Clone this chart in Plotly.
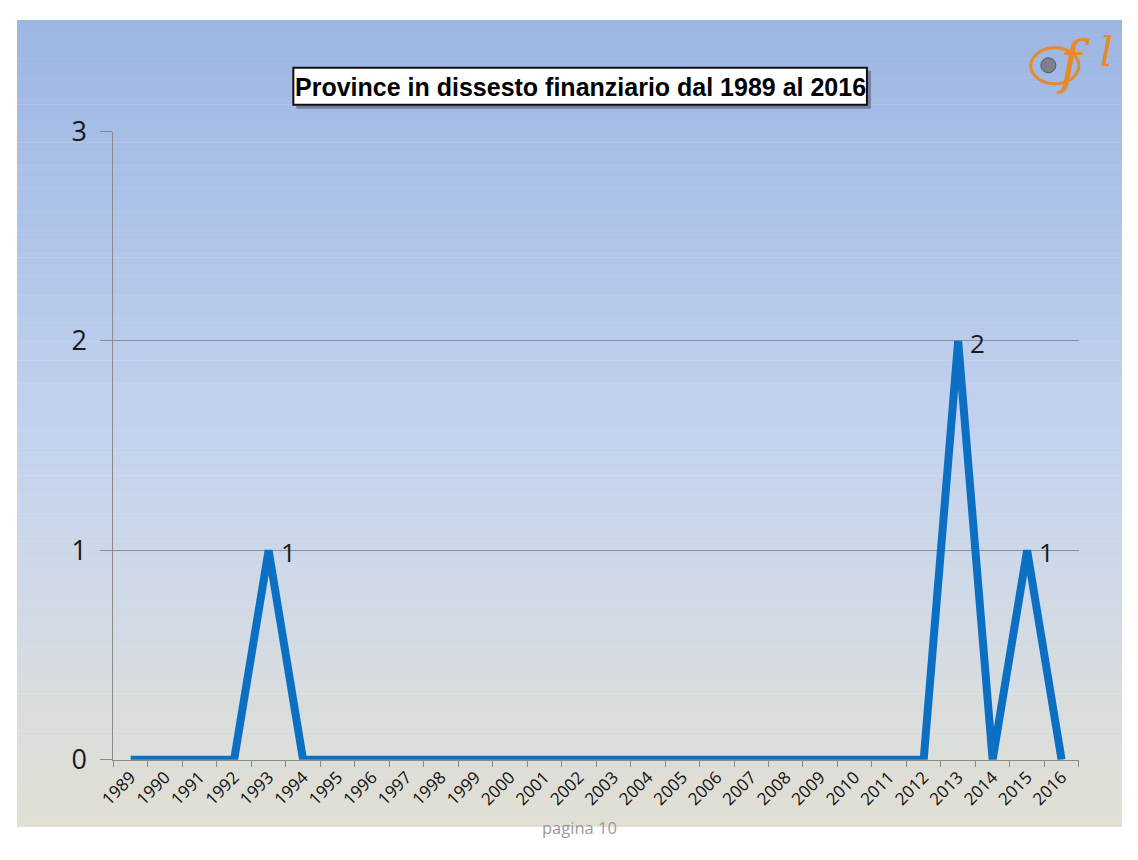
import plotly.graph_objects as go

# Data: provinces declared in financial distress per year
years = [str(y) for y in range(1989, 2017)]
counts = [0, 0, 0, 0, 1, 0, 0, 0, 0, 0, 0, 0, 0, 0, 0, 0, 0, 0, 0, 0, 0, 0, 0, 0, 2, 0, 1, 0]
y_ticks = [0, 1, 2, 3]

# Figure size leaves room for the page's default 8px body margin
W, H = 1122, 844
OFF = 8
LINE_BLUE = "#0B70C4"

# Slide layout coordinates -> page pixels
SX, BX = 0.9855, 7.6
SY, BY = 0.959, 10.4


def px(x):
    """Slide x -> paper fraction."""
    return ((x - BX) / SX - OFF) / W


def py(y):
    """Slide y -> paper fraction."""
    return 1 - ((y - BY) / SY - OFF) / H


fig = go.Figure()

fig.add_trace(go.Scatter(
    x=years, y=counts,
    mode="lines",
    line=dict(color=LINE_BLUE, width=8),
    hoverinfo="x+y",
))

# Slide background: vertical gradient from blue (top) to beige (bottom)
stops = [
    (10, (155, 181, 226)),
    (130, (166, 189, 230)),
    (430, (195, 210, 238)),
    (600, (208, 217, 230)),
    (760, (220, 222, 216)),
    (900, (231, 224, 205)),
]


def color_at(yy):
    yy = max(stops[0][0], min(stops[-1][0], yy))
    for (y0, c0), (y1, c1) in zip(stops[:-1], stops[1:]):
        if y0 <= yy <= y1:
            t = (yy - y0) / (y1 - y0)
            return "rgb(%d,%d,%d)" % tuple(round(a + (b - a) * t) for a, b in zip(c0, c1))
    return "rgb(%d,%d,%d)" % stops[-1][1]


shapes = []
step = 4
for d in range(0, H, step):
    slide_y = SY * (d + OFF + step / 2) + BY
    shapes.append(dict(
        type="rect", xref="paper", yref="paper", layer="below",
        x0=0, x1=1,
        y0=max(0, 1 - (d + step + 0.5) / H), y1=1 - d / H,
        fillcolor=color_at(slide_y), line=dict(width=0),
    ))

# Title box with shadow
shapes.append(dict(type="rect", xref="paper", yref="paper", layer="below",
                   x0=px(295), x1=px(870), y0=py(107), y1=py(69),
                   fillcolor="rgba(60,60,80,0.45)", line=dict(width=0)))
shapes.append(dict(type="rect", xref="paper", yref="paper", layer="below",
                   x0=px(292), x1=px(866), y0=py(103), y1=py(66),
                   fillcolor="white", line=dict(color="#111111", width=2)))

# Logo: orange swirl with small emblem
shapes.append(dict(type="circle", xref="paper", yref="paper",
                   x0=px(1030), x1=px(1078), y0=py(82), y1=py(46),
                   line=dict(color="#E8892A", width=3)))
shapes.append(dict(type="circle", xref="paper", yref="paper",
                   x0=px(1040), x1=px(1055), y0=py(71), y1=py(56),
                   fillcolor="#7d8088", line=dict(color="#55585e", width=1)))

annotations = [
    dict(text="<b>Province in dissesto finanziario dal 1989 al 2016</b>",
         xref="paper", yref="paper", x=px(579), y=py(85),
         xanchor="center", yanchor="middle", showarrow=False,
         font=dict(family="Liberation Sans, Arial, sans-serif", size=25, color="#000000")),
    dict(text="pagina 10", xref="paper", yref="paper", x=px(578), y=py(828),
         xanchor="center", yanchor="middle", showarrow=False,
         font=dict(family="Open Sans, sans-serif", size=16.5, color="#9a9a9a")),
    dict(text="<i>f</i>", xref="paper", yref="paper", x=px(1072), y=py(60),
         xanchor="center", yanchor="middle", showarrow=False,
         font=dict(family="DejaVu Serif, serif", size=57, color="#E8892A")),
    dict(text="<i>l</i>", xref="paper", yref="paper", x=px(1106), y=py(50),
         xanchor="center", yanchor="middle", showarrow=False,
         font=dict(family="DejaVu Serif, serif", size=41, color="#E8892A")),
]

# Value labels beside the non-zero points (category serial number as x)
for i, v in enumerate(counts):
    if v > 0:
        annotations.append(dict(
            text=str(v), x=i, y=v, xref="x", yref="y",
            xanchor="left", yanchor="middle", xshift=10, yshift=-2, showarrow=False,
            font=dict(family="Open Sans, Liberation Sans, sans-serif", size=26, color="#1a1a1a"),
        ))

fig.update_layout(
    width=W, height=H,
    margin=dict(l=0, r=0, t=0, b=0),
    paper_bgcolor="white",
    plot_bgcolor="rgba(0,0,0,0)",
    showlegend=False,
    shapes=shapes,
    annotations=annotations,
    xaxis=dict(
        domain=[px(112), px(1078)],
        type="category",
        range=[-0.5, len(years) - 0.5],
        tickson="boundaries",
        ticks="outside", ticklen=6, tickcolor="#8a8a8a",
        showline=True, linecolor="#8a8a8a", linewidth=1,
        showgrid=False,
        tickangle=-45,
        tickfont=dict(family="Open Sans, sans-serif", size=17, color="#111111"),
        fixedrange=True,
    ),
    yaxis=dict(
        domain=[py(760), py(130)],
        range=[0, 3],
        tickvals=y_ticks,
        ticks="outside", ticklen=12, tickcolor="#8a8a8a",
        showline=True, linecolor="#8a8a8a", linewidth=1,
        showgrid=True, gridcolor="#8a8f99", gridwidth=1,
        zeroline=False,
        tickfont=dict(family="Open Sans, sans-serif", size=27, color="#1a1a1a"),
        ticklabelstandoff=8,
        fixedrange=True,
    ),
)

fig.write_html("out.html", config={"displayModeBar": False})
